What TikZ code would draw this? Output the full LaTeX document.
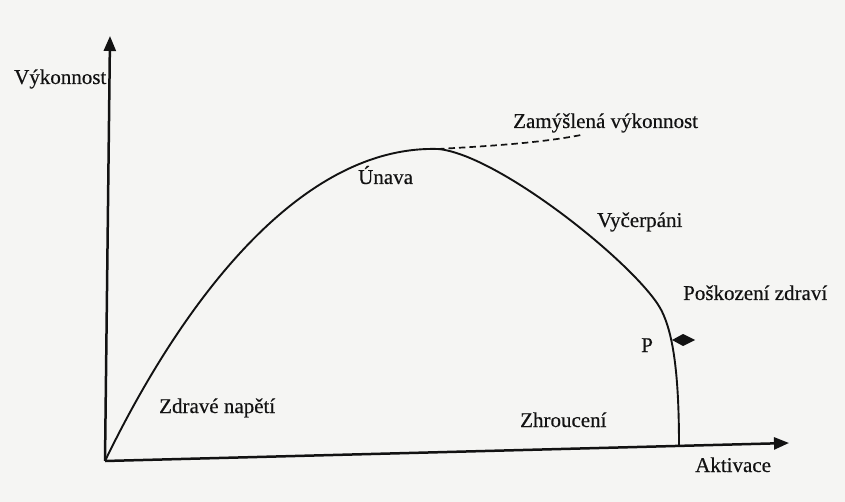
\documentclass[tikz,border=0pt]{standalone}
\usepackage{fontspec}
\setmainfont{Liberation Serif}[FakeBold=0.4]
\usetikzlibrary{arrows.meta}
\definecolor{paper}{RGB}{245,245,243}
\definecolor{ink}{RGB}{18,18,18}
\begin{document}
\begin{tikzpicture}[x=1pt,y=-1pt,
  lbl/.style={anchor=base west,inner sep=0pt,text=ink,font=\fontsize{21}{25}\selectfont},
  axisline/.style={draw=ink,line width=2.5pt,-{Triangle[length=15pt,width=12pt]}},
  curveline/.style={draw=ink,line width=1.9pt},
  dashline/.style={draw=ink,line width=1.7pt,dash pattern=on 6.5pt off 4pt}]
\fill[paper] (0,0) rectangle (845,502);
\useasboundingbox (0,0) rectangle (845,502);
\coordinate (O) at (105,461);
\coordinate (Ytop) at (110,36);
\coordinate (Xend) at (789,443);
\coordinate (peak) at (438,149);
\coordinate (knee) at (657,303);
\coordinate (dend) at (581,135);
\coordinate (bottom) at (679,446);
% axes
\draw[axisline] (O) -- (Ytop);
\draw[axisline] (O) -- (Xend);
% curve
\draw[curveline] (O) .. controls (182,302) and (300,145) .. (peak)
  .. controls (495,154) and (623,254) .. (knee)
  .. controls (673,326) and (679,372) .. (bottom);
% intended performance
\draw[dashline] (peak) .. controls (490,146) and (540,143) .. (dend);
% marker at P
\fill[ink] (672,340) -- (683,334) -- (695,340) -- (683,346) -- cycle;
% labels
\node[lbl] (vyk) at (14,84) {Výkonnost};
\node[lbl] (zam) at (513,128) {Zamýšlená výkonnost};
\node[lbl] (unava) at (358,184) {Únava};
\node[lbl] (vyc) at (597,227) {Vyčerpáni};
\node[lbl] (posk) at (683,300) {Poškození zdraví};
\node[lbl] (P) at (641,352) {P};
\node[lbl] (zdr) at (159,413) {Zdravé napětí};
\node[lbl] (zhr) at (520,427) {Zhroucení};
\node[lbl] (akt) at (695,472) {Aktivace};
\end{tikzpicture}
\end{document}
